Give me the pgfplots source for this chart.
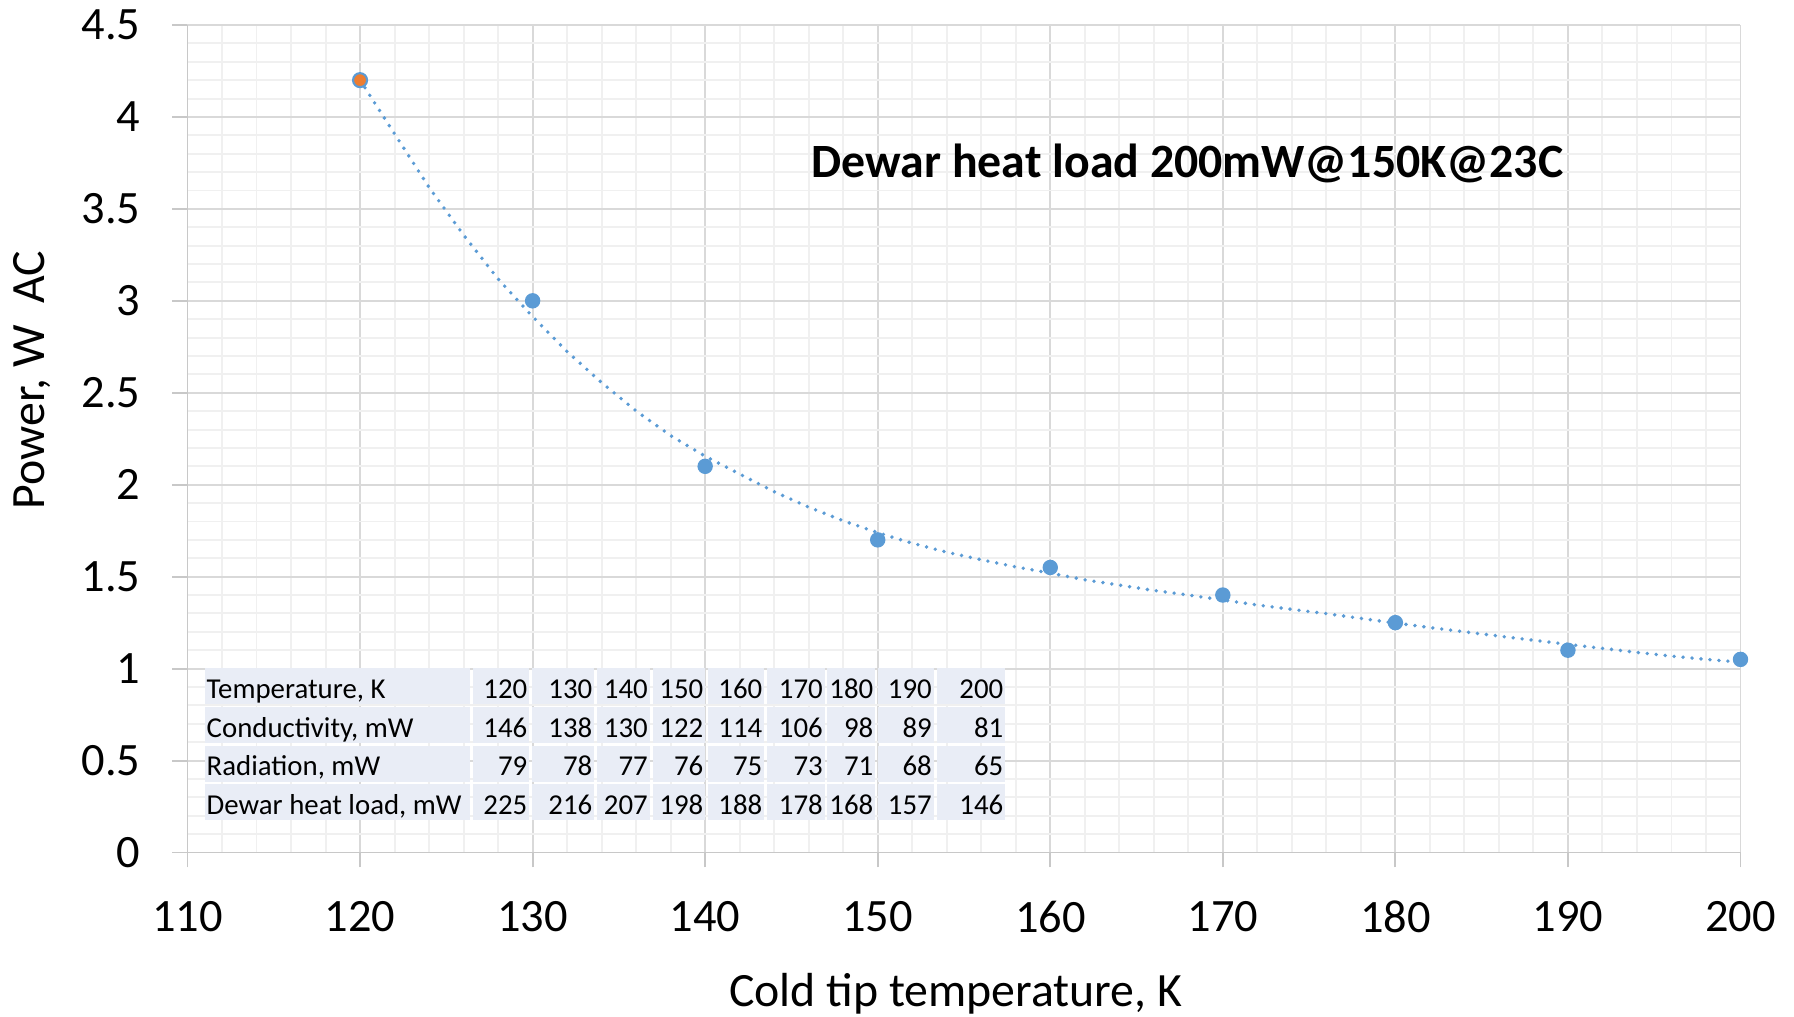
\documentclass[border=0pt]{standalone}
\usepackage{fontspec}
\setmainfont{Carlito}
\usepackage{pgfplots}
\pgfplotsset{compat=1.18}

\definecolor{ptblue}{HTML}{5B9BD5}
\definecolor{ptorange}{HTML}{ED7D31}
\definecolor{gridmaj}{HTML}{D9D9D9}
\definecolor{gridmin}{HTML}{F0F0F0}
\definecolor{axgray}{HTML}{C8C8C8}
\definecolor{cellbg}{HTML}{E9EDF6}

% cell edges of the data table, in pixels of the original chart
\def\colL{{473,532,597,653,708,767,826.5,878,936.5}}
\def\colR{{529,594,649.5,705,764,824.5,875,933.5,1005}}

\begin{document}
\begin{tikzpicture}
\path[use as bounding box] (-18.75mm,-16.45mm) rectangle (160.65mm,85.25mm);
\begin{axis}[
    scale only axis,
    width=155.3mm, height=82.75mm,
    xmin=110, xmax=200, ymin=0, ymax=4.5,
    xtick={110,120,...,200},
    ytick={0,0.5,...,4.5},
    minor x tick num=4, minor y tick num=4,
    grid=both,
    major grid style={draw=gridmaj, line width=0.55pt},
    minor grid style={draw=gridmin, line width=0.55pt},
    axis x line*=bottom, axis y line*=left,
    axis line style={draw=axgray, line width=0.55pt, -},
    tick align=outside,
    major tick length=1.5mm, minor tick length=0pt,
    major tick style={draw=axgray, line width=0.55pt},
    /pgf/number format/assume math mode=true,
    tick label style={font=\fontsize{13.2}{15}\selectfont, black},
    yticklabel style={anchor=east, inner sep=0pt, xshift=-3.15mm},
    xticklabel style={anchor=north, inner sep=0pt, yshift=-3.3mm},
    xlabel={Cold tip temperature, K},
    ylabel={Power, W\ \ AC},
    label style={font=\fontsize{13.6}{16}\selectfont},
    xlabel style={at={(axis description cs:0.4947,-0.1863)}, anchor=base},
    ylabel style={at={(axis description cs:-0.1004,0.571)}, anchor=center},
    clip=false,
]

% trendline as drawn in the chart
\addplot[ptblue, line width=1.1pt, line cap=round, dash pattern=on 0pt off 0.9mm] coordinates {
  (120,4.200) (122,3.908) (124,3.617) (126,3.358) (128,3.119)
  (130,2.914) (132,2.724) (134,2.555) (136,2.401) (138,2.267)
  (140,2.155) (142,2.058) (144,1.962) (146,1.878) (148,1.804)
  (150,1.739) (152,1.682) (154,1.633) (156,1.592) (158,1.553)
  (160,1.519) (162,1.483) (164,1.454) (166,1.425) (168,1.400)
  (170,1.373) (172,1.346) (174,1.322) (176,1.299) (178,1.273)
  (180,1.248) (182,1.223) (184,1.200) (186,1.177) (188,1.154)
  (190,1.132) (192,1.110) (194,1.088) (196,1.068) (198,1.050)
  (200,1.035)};

\addplot[only marks, mark=*, mark size=0.7mm, ptblue, mark options={fill=ptblue}] coordinates {
  (130,3.00) (140,2.10) (150,1.70) (160,1.55) (170,1.40)
  (180,1.25) (190,1.10) (200,1.05)};

\addplot[only marks, mark=*, mark size=0.7mm, mark options={fill=ptorange, draw=ptblue, line width=0.6pt}] coordinates {
  (120,4.20)};

\node[anchor=base, font=\bfseries\fontsize{13.6}{16}\selectfont] at (axis cs:167.96,3.672) {Dewar heat load 200mW@150K@23C};
\end{axis}

% data table (pixel coordinates of the original chart)
\begin{scope}[x=0.1mm, y=-0.1mm, shift={(-18.75mm,85.25mm)}, font=\fontsize{8.2}{10}\selectfont]
\foreach \yt/\yb/\lab/\vals in {
    668.3/704/{Temperature, K}/{120,130,140,150,160,170,180,190,200},
    706.7/743.3/{Conductivity, mW}/{146,138,130,122,114,106,98,89,81},
    746/781.7/{Radiation, mW}/{79,78,77,76,75,73,71,68,65},
    784.3/820/{Dewar heat load, mW}/{225,216,207,198,188,178,168,157,146}} {
  \fill[cellbg] (205,\yt) rectangle (470,\yb);
  \node[anchor=base west, inner sep=0pt] at (206,\yb-5.7) {\lab};
  \foreach \v [count=\i from 0] in \vals {
    \pgfmathsetmacro\cl{\colL[\i]}
    \pgfmathsetmacro\cr{\colR[\i]}
    \fill[cellbg] (\cl,\yt) rectangle (\cr,\yb);
    \node[anchor=base east, inner sep=0pt] at (\cr-1,\yb-5.7) {\v};
  }
}
\end{scope}
\end{tikzpicture}
\end{document}
